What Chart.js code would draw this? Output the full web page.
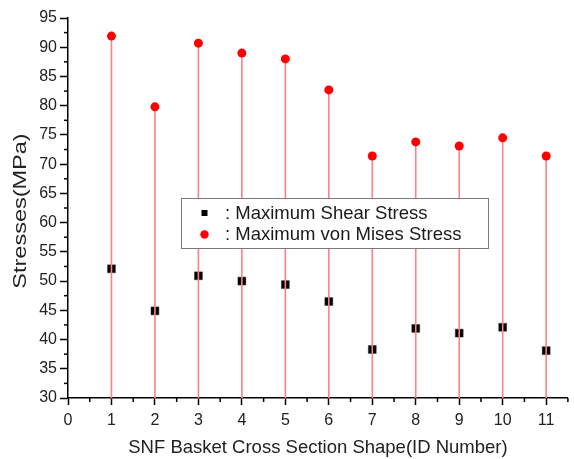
<!DOCTYPE html>
<html>
<head>
<meta charset="utf-8">
<script src="https://cdn.jsdelivr.net/npm/chart.js@4/dist/chart.umd.min.js"></script>
<style>
html,body{margin:0;padding:0;background:#fff;}
#wrap{width:574px;height:459px;}
</style>
</head>
<body>
<div id="wrap"><canvas id="c" width="574" height="459"></canvas></div>
<script>
const shapeIds = [1, 2, 3, 4, 5, 6, 7, 8, 9, 10, 11];
const shearStress = [52.1, 44.9, 50.9, 50.0, 49.4, 46.5, 38.3, 41.9, 41.1, 42.1, 38.1];
const vonMisesStress = [91.9, 79.8, 90.7, 89.0, 88.0, 82.7, 71.4, 73.8, 73.1, 74.5, 71.4];
const seriesLabels = ['Maximum Shear Stress', 'Maximum von Mises Stress'];
const xTitle = 'SNF Basket Cross Section Shape(ID Number)';
const yTitle = 'Stresses(MPa)';

const FONT = 'Arial, "Liberation Sans", sans-serif';

// vertical drop lines from each von Mises point down to the x axis
const dropLines = {
  id: 'dropLines',
  afterDatasetDraw(chart, args) {
    if (args.index !== 0) return;
    const meta = chart.getDatasetMeta(1);
    const ctx = chart.ctx;
    const bottom = chart.scales.y.getPixelForValue(chart.scales.y.min);
    ctx.save();
    ctx.strokeStyle = '#ff8282';
    ctx.lineWidth = 1.6;
    meta.data.forEach(pt => {
      ctx.beginPath();
      ctx.moveTo(pt.x, pt.y);
      ctx.lineTo(pt.x, bottom);
      ctx.stroke();
    });
    ctx.restore();
  }
};

const minorTicks = {
  id: 'minorTicks',
  afterDraw(chart) {
    const ctx = chart.ctx;
    const xs = chart.scales.x, ys = chart.scales.y;
    ctx.save();
    ctx.strokeStyle = '#000';
    ctx.lineWidth = 1.5;
    for (let v = ys.min + 2.5; v < ys.max; v += 5) {
      const py = ys.getPixelForValue(v);
      ctx.beginPath(); ctx.moveTo(xs.left - 4, py); ctx.lineTo(xs.left, py); ctx.stroke();
    }
    for (let v = xs.min + 0.5; v <= xs.max + 1e-6; v += 1) {
      const px = xs.getPixelForValue(v);
      ctx.beginPath(); ctx.moveTo(px, ys.bottom); ctx.lineTo(px, ys.bottom + 4); ctx.stroke();
    }
    ctx.restore();
  }
};

// y-axis title (text in the reference is stretched along its length)
const yAxisTitle = {
  id: 'yAxisTitle',
  afterDraw(chart) {
    const ctx = chart.ctx;
    const ys = chart.scales.y;
    const cy = (ys.top + ys.bottom) / 2 + 3;
    ctx.save();
    ctx.translate(21, cy);
    ctx.rotate(-Math.PI / 2);
    ctx.scale(1.27, 1);
    ctx.font = '18.5px ' + FONT;
    ctx.fillStyle = '#222';
    ctx.textAlign = 'center';
    ctx.textBaseline = 'middle';
    ctx.fillText(yTitle, 0, 0);
    ctx.restore();
  }
};

const boxLegend = {
  id: 'boxLegend',
  afterDatasetsDraw(chart) {
    const ctx = chart.ctx;
    const L = 181, T = 198, W = 307, H = 50;
    ctx.save();
    ctx.fillStyle = '#fff';
    ctx.fillRect(L, T, W, H);
    ctx.strokeStyle = '#7a7a7a';
    ctx.lineWidth = 1;
    ctx.strokeRect(L + 0.5, T + 0.5, W, H);
    ctx.font = '18.5px ' + FONT;
    ctx.textBaseline = 'middle';
    ctx.fillStyle = '#000';
    ctx.fillRect(201.5, 210, 6, 6);
    ctx.fillStyle = '#1a1a1a';
    ctx.fillText(': ' + seriesLabels[0], 225, 213.5);
    ctx.fillStyle = '#ff0000';
    ctx.beginPath(); ctx.arc(204.5, 234.5, 4.2, 0, Math.PI * 2); ctx.fill();
    ctx.fillStyle = '#1a1a1a';
    ctx.fillText(': ' + seriesLabels[1], 225, 234.5);
    ctx.restore();
  }
};

new Chart(document.getElementById('c'), {
  type: 'scatter',
  data: {
    datasets: [
      {
        label: seriesLabels[0],
        data: shapeIds.map((x, i) => ({x, y: shearStress[i]})),
        order: 1,
        pointStyle: 'rect',
        pointRadius: 5.6,
        backgroundColor: '#000',
        borderColor: '#333',
        borderWidth: 0.5,
        showLine: false
      },
      {
        label: seriesLabels[1],
        data: shapeIds.map((x, i) => ({x, y: vonMisesStress[i]})),
        order: 0,
        pointStyle: 'circle',
        pointRadius: 4.5,
        backgroundColor: '#ff0000',
        borderColor: '#ff0000',
        borderWidth: 0,
        showLine: false
      }
    ]
  },
  options: {
    responsive: false,
    animation: false,
    layout: {padding: {left: 0, right: 4, top: 18, bottom: 0}},
    plugins: {legend: {display: false}, tooltip: {enabled: false}},
    scales: {
      x: {
        type: 'linear',
        min: 0, max: 11.5,
        afterFit(s) { s.height = 61; },
        ticks: {stepSize: 1, includeBounds: false, color: '#222', font: {family: FONT, size: 16}, padding: 6, maxRotation: 0},
        grid: {drawOnChartArea: false, drawTicks: true, tickLength: 7, tickWidth: 1.5, tickColor: '#000'},
        border: {color: '#000', width: 1.5},
        title: {display: true, text: xTitle, color: '#222', font: {family: FONT, size: 18.5}, padding: {top: 0, bottom: 0}}
      },
      y: {
        type: 'linear',
        min: 30, max: 95,
        afterFit(s) { s.width = 68; },
        ticks: {stepSize: 5, color: '#222', font: {family: FONT, size: 16}, padding: 3},
        grid: {drawOnChartArea: false, drawTicks: true, tickLength: 8, tickWidth: 1.5, tickColor: '#000'},
        border: {color: '#000', width: 1.5},
        title: {display: false, text: yTitle}
      }
    }
  },
  plugins: [dropLines, boxLegend, minorTicks, yAxisTitle]
});
</script>
</body>
</html>
